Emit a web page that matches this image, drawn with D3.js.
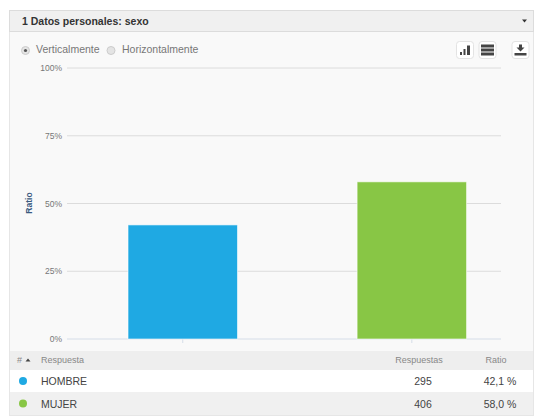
<!DOCTYPE html>
<html>
<head>
<meta charset="utf-8">
<script src="https://cdn.jsdelivr.net/npm/d3@7"></script>
<style>
html, body { margin: 0; padding: 0; background: #fff; }
text { font-family: "Liberation Sans", Arial, sans-serif; }
</style>
</head>
<body>
<svg id="chart" width="534" height="416" style="display:block"></svg>
<script>
const categories = ['HOMBRE', 'MUJER'];
const ratios = [42.1, 58.0];
const counts = [295, 406];
const ratioLabels = ['42,1 %', '58,0 %'];
const colors = ['#1fa9e3', '#88c645'];
const yTicks = [0, 25, 50, 75, 100];

const svg = d3.select('#chart');

// panel
svg.append('rect').attr('x', 9.5).attr('y', 10.5).attr('width', 524).attr('height', 405)
    .attr('fill', '#f9f9f9').attr('stroke', '#e6e6e6');

// header
svg.append('rect').attr('x', 9.5).attr('y', 10.5).attr('width', 524).attr('height', 21)
    .attr('fill', '#f0f0f0').attr('stroke', '#dcdcdc');
svg.append('text').attr('x', 22).attr('y', 25).attr('font-size', 10.5).attr('font-weight', 'bold')
    .attr('fill', '#333').text('1 Datos personales: sexo');
svg.append('path').attr('d', 'M522 19.5h5l-2.5 3z').attr('fill', '#333');

// radios
svg.append('circle').attr('cx', 25.5).attr('cy', 50.5).attr('r', 4).attr('fill', '#e4e4e4').attr('stroke', '#ccc');
svg.append('circle').attr('cx', 25.5).attr('cy', 50.5).attr('r', 1.6).attr('fill', '#555');
svg.append('text').attr('x', 36).attr('y', 53).attr('font-size', 10.5).attr('fill', '#777').text('Verticalmente');
svg.append('circle').attr('cx', 111).attr('cy', 50.5).attr('r', 4).attr('fill', '#e4e4e4').attr('stroke', '#ccc');
svg.append('text').attr('x', 122).attr('y', 53).attr('font-size', 10.5).attr('fill', '#777').text('Horizontalmente');

// toolbar buttons
[465, 487.5, 520.5].forEach(cx => {
    svg.append('rect').attr('x', cx - 8.5).attr('y', 41.5).attr('width', 17).attr('height', 17).attr('rx', 3)
        .attr('fill', '#fff').attr('stroke', '#e3e3e3');
});
svg.append('path').attr('d', 'M460 52h2v3h-2zM463.500 49h2v6h-2zM467 45.500h3v9.500h-3z').attr('fill', '#444');
svg.append('path').attr('d', 'M481 44.500h13v3h-13zM481 48.500h13v3h-13zM481 52.500h13v3h-13z').attr('fill', '#444');
svg.append('path').attr('d', 'M519 44.500h3v3h2.500l-4 4-4-4h2.500zM514.500 53h12v2.500h-12z').attr('fill', '#444');

// plot
const x = d3.scaleBand().domain(categories).range([68, 526.6]).paddingInner(0.522).paddingOuter(0.262);
const y = d3.scaleLinear().domain([0, 100]).range([339, 68]);

const yAxis = d3.axisLeft(y).tickValues(yTicks).tickSize(0).tickPadding(5).tickFormat(d => d + '%');
const gy = svg.append('g').attr('transform', 'translate(67,0)').call(yAxis);
gy.select('.domain').remove();
gy.selectAll('text').attr('font-size', 8.5).attr('fill', '#777').style('font-family', '"Liberation Sans", Arial, sans-serif');

svg.append('g').selectAll('line').data(yTicks).join('line')
    .attr('x1', 67).attr('x2', 501)
    .attr('y1', d => y(d)).attr('y2', d => y(d))
    .attr('stroke', d => d === 0 ? '#d5dde8' : '#dcdcdc').attr('stroke-width', 1);

svg.append('g').selectAll('line').data(categories).join('line')
    .attr('x1', d => x(d) + x.bandwidth() / 2).attr('x2', d => x(d) + x.bandwidth() / 2)
    .attr('y1', 339).attr('y2', 343).attr('stroke', '#d5dde8');

svg.append('g').selectAll('rect').data(categories).join('rect')
    .attr('x', d => x(d)).attr('width', x.bandwidth())
    .attr('y', (d, i) => y(ratios[i]))
    .attr('height', (d, i) => y(0) - y(ratios[i]))
    .attr('fill', (d, i) => colors[i])
    .attr('stroke', '#fff').attr('stroke-opacity', 0.6).attr('stroke-width', 1);

svg.append('text').attr('transform', 'translate(32,203) rotate(-90)')
    .attr('text-anchor', 'middle').attr('font-size', 8.5).attr('font-weight', 'bold').attr('fill', '#3a5a80').text('Ratio');

// table
svg.append('rect').attr('x', 10).attr('y', 351).attr('width', 523).attr('height', 19).attr('fill', '#eeeeee');
svg.append('rect').attr('x', 10).attr('y', 370).attr('width', 523).attr('height', 22).attr('fill', '#ffffff');
svg.append('rect').attr('x', 10).attr('y', 392).attr('width', 523).attr('height', 23).attr('fill', '#f0f0f0');

svg.append('text').attr('x', 17).attr('y', 363).attr('font-size', 9).attr('fill', '#888').text('#');
svg.append('path').attr('d', 'M25.500 361.500h5l-2.500-3z').attr('fill', '#444');
svg.append('text').attr('x', 41).attr('y', 363).attr('font-size', 9).attr('fill', '#888').text('Respuesta');
svg.append('text').attr('x', 419).attr('y', 363).attr('text-anchor', 'middle').attr('font-size', 9).attr('fill', '#888').text('Respuestas');
svg.append('text').attr('x', 496).attr('y', 363).attr('text-anchor', 'middle').attr('font-size', 9).attr('fill', '#888').text('Ratio');

const rowY = [381, 403.5];
categories.forEach((c, i) => {
    svg.append('circle').attr('cx', 23).attr('cy', rowY[i]).attr('r', 4).attr('fill', colors[i]);
    svg.append('text').attr('x', 41).attr('y', rowY[i] + 4).attr('font-size', 10.5).attr('fill', '#444').text(c);
    svg.append('text').attr('x', 423).attr('y', rowY[i] + 4).attr('text-anchor', 'middle').attr('font-size', 10.5).attr('fill', '#444').text(counts[i]);
    svg.append('text').attr('x', 500).attr('y', rowY[i] + 4).attr('text-anchor', 'middle').attr('font-size', 10.5).attr('fill', '#444').text(ratioLabels[i]);
});
</script>
</body>
</html>
